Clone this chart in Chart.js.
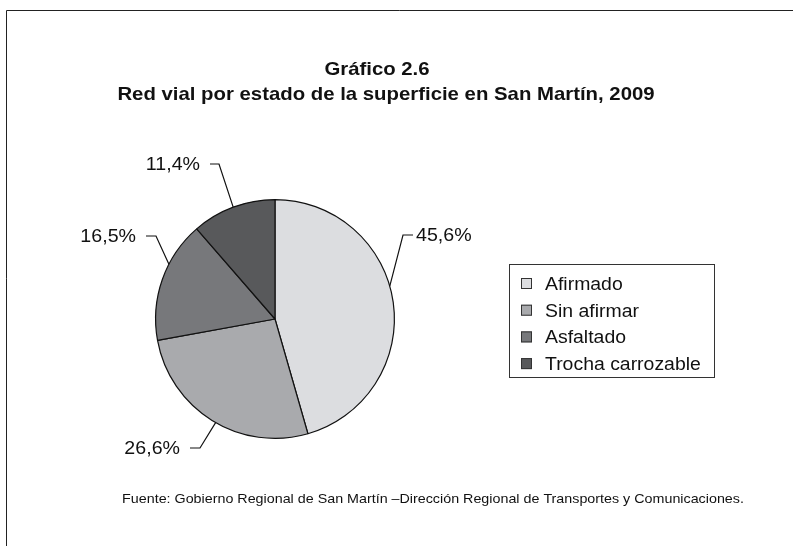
<!DOCTYPE html>
<html>
<head>
<meta charset="utf-8">
<script src="https://cdn.jsdelivr.net/npm/chart.js@4"></script>
<style>
  body { margin: 0; background: #fff; }
  #wrap { width: 793px; height: 546px; }
</style>
</head>
<body>
<div id="wrap"><canvas id="chart" width="793" height="546"></canvas></div>
<script>
// data (percent of road network)
var categories = ['Afirmado', 'Sin afirmar', 'Asfaltado', 'Trocha carrozable'];
var shares = [45.6, 26.6, 16.5, 11.4];
var greys = ['#dcdde0', '#a9aaad', '#77787b', '#58595b'];

var FONT = '"Liberation Sans", Arial, Helvetica, sans-serif';

// where each percentage label sits, and a small nudge of the leader line on the slice edge
var labelSpots = [
  { x: 416, y: 236, align: 'left',  elbowX: 403, nudge: -8 },
  { x: 180, y: 449, align: 'right', elbowX: 200, nudge: -2 },
  { x: 136, y: 237, align: 'right', elbowX: 156, nudge: 8 },
  { x: 200, y: 165, align: 'right', elbowX: 219, nudge: 0 }
];

function pct(v) {
  return v.toFixed(1).replace('.', ',') + '%';
}

// the source's type runs a bit wider than Liberation Sans, so squeeze it out sideways
function wideText(ctx, text, x, y, align, sx) {
  var w = ctx.measureText(text).width * sx;
  var left = align === 'center' ? x - w / 2 : (align === 'right' ? x - w : x);
  ctx.save();
  ctx.textAlign = 'left';
  ctx.translate(left, y);
  ctx.scale(sx, 1);
  ctx.fillText(text, 0, 0);
  ctx.restore();
}

var decorations = {
  id: 'decorations',
  afterDraw: function(chart) {
    var ctx = chart.ctx;
    ctx.save();

    // frame (only top and left edges show in the crop)
    ctx.strokeStyle = '#222';
    ctx.lineWidth = 1;
    ctx.beginPath();
    ctx.moveTo(793, 10.5);
    ctx.lineTo(6.5, 10.5);
    ctx.lineTo(6.5, 546);
    ctx.stroke();

    // titles
    ctx.fillStyle = '#111';
    ctx.textBaseline = 'alphabetic';
    ctx.font = 'bold 18.5px ' + FONT;
    wideText(ctx, 'Gráfico 2.6', 377, 75, 'center', 1.1);
    wideText(ctx, 'Red vial por estado de la superficie en San Martín, 2009', 386, 100, 'center', 1.1);

    // source note
    ctx.font = '13px ' + FONT;
    wideText(ctx, 'Fuente: Gobierno Regional de San Martín –Dirección Regional de Transportes y Comunicaciones.', 433, 503, 'center', 1.1);

    // percentage labels with leader lines
    var arcs = chart.getDatasetMeta(0).data;
    ctx.font = '18px ' + FONT;
    ctx.textBaseline = 'middle';
    ctx.lineWidth = 1.2;
    ctx.strokeStyle = '#111';
    arcs.forEach(function(arc, i) {
      var spot = labelSpots[i];
      var a = (arc.startAngle + arc.endAngle) / 2 + spot.nudge * Math.PI / 180;
      var px = arc.x + Math.cos(a) * arc.outerRadius;
      var py = arc.y + Math.sin(a) * arc.outerRadius;
      var endX = spot.align === 'left' ? spot.x - 3 : spot.x + 10;
      ctx.beginPath();
      ctx.moveTo(px, py);
      ctx.lineTo(spot.elbowX, spot.y - 1);
      ctx.lineTo(endX, spot.y - 1);
      ctx.stroke();
      wideText(ctx, pct(shares[i]), spot.x, spot.y, spot.align, 1.09);
    });

    // legend box
    var lx = 509.5, ly = 264.5, lw = 205, lh = 113;
    ctx.lineWidth = 1;
    ctx.strokeStyle = '#333';
    ctx.strokeRect(lx, ly, lw, lh);
    ctx.font = '17.5px ' + FONT;
    categories.forEach(function(name, i) {
      var cy = 284 + i * 26.7;
      ctx.fillStyle = greys[i];
      ctx.fillRect(521, cy - 6, 11, 11);
      ctx.strokeStyle = '#333';
      ctx.strokeRect(521.5, cy - 5.5, 10, 10);
      ctx.fillStyle = '#111';
      wideText(ctx, name, 545, cy + 1, 'left', 1.11);
    });

    ctx.restore();
  }
};

new Chart(document.getElementById('chart'), {
  type: 'pie',
  data: {
    labels: categories,
    datasets: [{
      data: shares,
      backgroundColor: greys,
      borderColor: '#111',
      borderWidth: 1.2
    }]
  },
  options: {
    responsive: false,
    animation: false,
    devicePixelRatio: 1,
    layout: { padding: { left: 155, top: 199, right: 398, bottom: 107 } },
    plugins: {
      legend: { display: false },
      title: { display: false },
      tooltip: { enabled: false }
    }
  },
  plugins: [decorations]
});
</script>
</body>
</html>
